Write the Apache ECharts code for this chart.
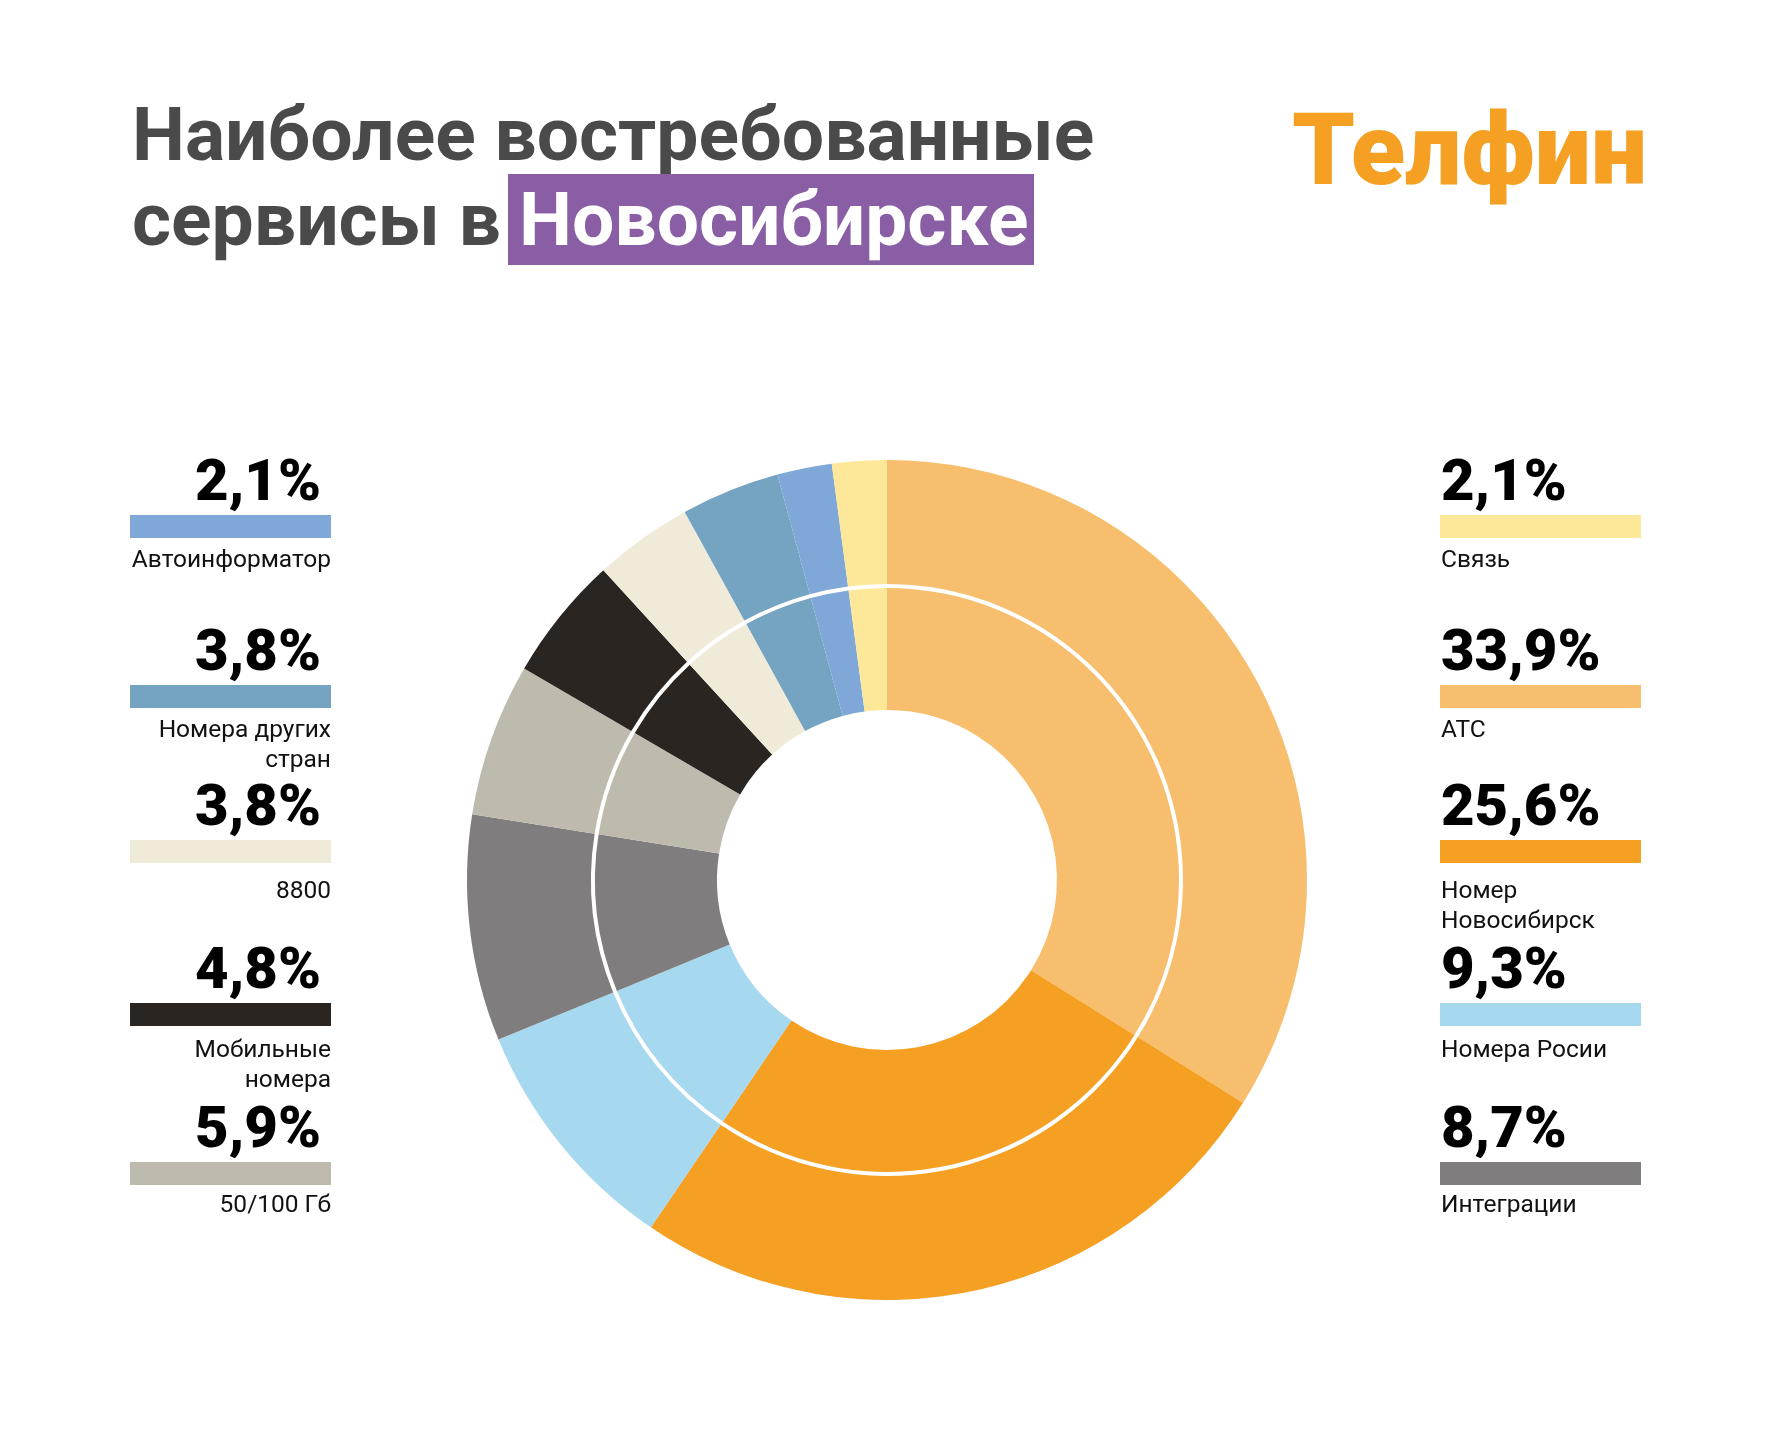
<!DOCTYPE html>
<html>
<head>
<meta charset="utf-8">
<script src="https://cdn.jsdelivr.net/npm/echarts@6/dist/echarts.min.js"></script>
<style>
html,body{margin:0;padding:0;background:#fff;}
#chart{width:1773px;height:1448px;}
</style>
</head>
<body>
<div id="chart"></div>
<script>
// ---- data ----
var categories = ['АТС', 'Номер Новосибирск', 'Номера Росии', 'Интеграции', '50/100 Гб', 'Мобильные номера', '8800', 'Номера других стран', 'Автоинформатор', 'Связь'];
var values = [33.9, 25.6, 9.3, 8.7, 5.9, 4.8, 3.8, 3.8, 2.1, 2.1];
var colors = ['#F7BE6D', '#F59F23', '#A6D8EF', '#7F7D7E', '#BEBAAE', '#2B2522', '#F0EBD9', '#75A3C2', '#7FA8D8', '#FDE899'];
var legendLabels = ['АТС', 'Номер\nНовосибирск', 'Номера Росии', 'Интеграции', '50/100 Гб', 'Мобильные\nномера', '8800', 'Номера других\nстран', 'Автоинформатор', 'Связь'];
var leftColumn = [8, 7, 6, 5, 4];   // indices, top to bottom
var rightColumn = [9, 0, 1, 2, 3];

// ---- layout ----
var slotTops = [515, 685, 840, 1003, 1162];
var labelShift = [0, 0, 6, 2, -2];
var FONT = 'Roboto, "Noto Sans", sans-serif';

function pct(v) { return v.toFixed(1).replace('.', ',') + '%'; }

var pieData = categories.map(function (c, i) {
  return { name: c, value: values[i], itemStyle: { color: colors[i] } };
});

var graphics = [];
var TF = 75;
// Title
graphics.push({ type: 'text', x: 132, y: 167 - 0.34 * TF, style: { text: 'Наиболее востребованные', font: 'bold ' + TF + 'px ' + FONT, fill: '#4A4A4A', verticalAlign: 'middle' } });
graphics.push({ type: 'text', x: 132, y: 252 - 0.34 * TF, style: { text: 'сервисы в', font: 'bold ' + TF + 'px ' + FONT, fill: '#4A4A4A', verticalAlign: 'middle' } });
graphics.push({ type: 'rect', shape: { x: 508, y: 174, width: 526, height: 91 }, style: { fill: '#8A5EA5' } });
graphics.push({ type: 'text', x: 519, y: 252 - 0.34 * TF, style: { text: 'Новосибирске', font: 'bold ' + TF + 'px ' + FONT, fill: '#FFFFFF', verticalAlign: 'middle' } });
// Logo
graphics.push({ type: 'text', x: 1292, y: 193 - 0.34 * 100, style: { text: 'Телфин', font: '900 100px ' + FONT, fill: '#F5A023', verticalAlign: 'middle' } });

function addLegend(col, side) {
  col.forEach(function (idx, k) {
    var top = slotTops[k];
    var barX = side === 'left' ? 130 : 1440;
    var pctX = side === 'left' ? 321 : 1441;
    var labX = side === 'left' ? 331 : 1441;
    var align = side === 'left' ? 'right' : 'left';
    graphics.push({ type: 'text', x: pctX, y: top - 10 - 0.34 * 58, style: { text: pct(values[idx]), font: '900 58px ' + FONT, fill: '#000', align: align, verticalAlign: 'middle' } });
    graphics.push({ type: 'rect', shape: { x: barX, y: top, width: 201, height: 23 }, style: { fill: colors[idx] } });
    var lines = legendLabels[idx].split('\n');
    lines.forEach(function (ln, j) {
      graphics.push({ type: 'text', x: labX, y: top + 23 + 31 + labelShift[k] + j * 30 - 0.34 * 24.5, style: { text: ln, font: '24.5px ' + FONT, fill: '#111', align: align, verticalAlign: 'middle' } });
    });
  });
}
addLegend(leftColumn, 'left');
addLegend(rightColumn, 'right');

var chart = echarts.init(document.getElementById('chart'), null, { renderer: 'canvas' });
chart.setOption({
  backgroundColor: '#ffffff',
  animation: false,
  series: [
    {
      type: 'pie', center: [887, 880], radius: [170, 292], startAngle: 90, clockwise: true,
      silent: true, label: { show: false }, labelLine: { show: false },
      itemStyle: { borderWidth: 0 }, data: pieData
    },
    {
      type: 'pie', center: [887, 880], radius: [296, 420], startAngle: 90, clockwise: true,
      silent: true, label: { show: false }, labelLine: { show: false },
      itemStyle: { borderWidth: 0 }, data: pieData
    }
  ],
  graphic: graphics
});
</script>
</body>
</html>
